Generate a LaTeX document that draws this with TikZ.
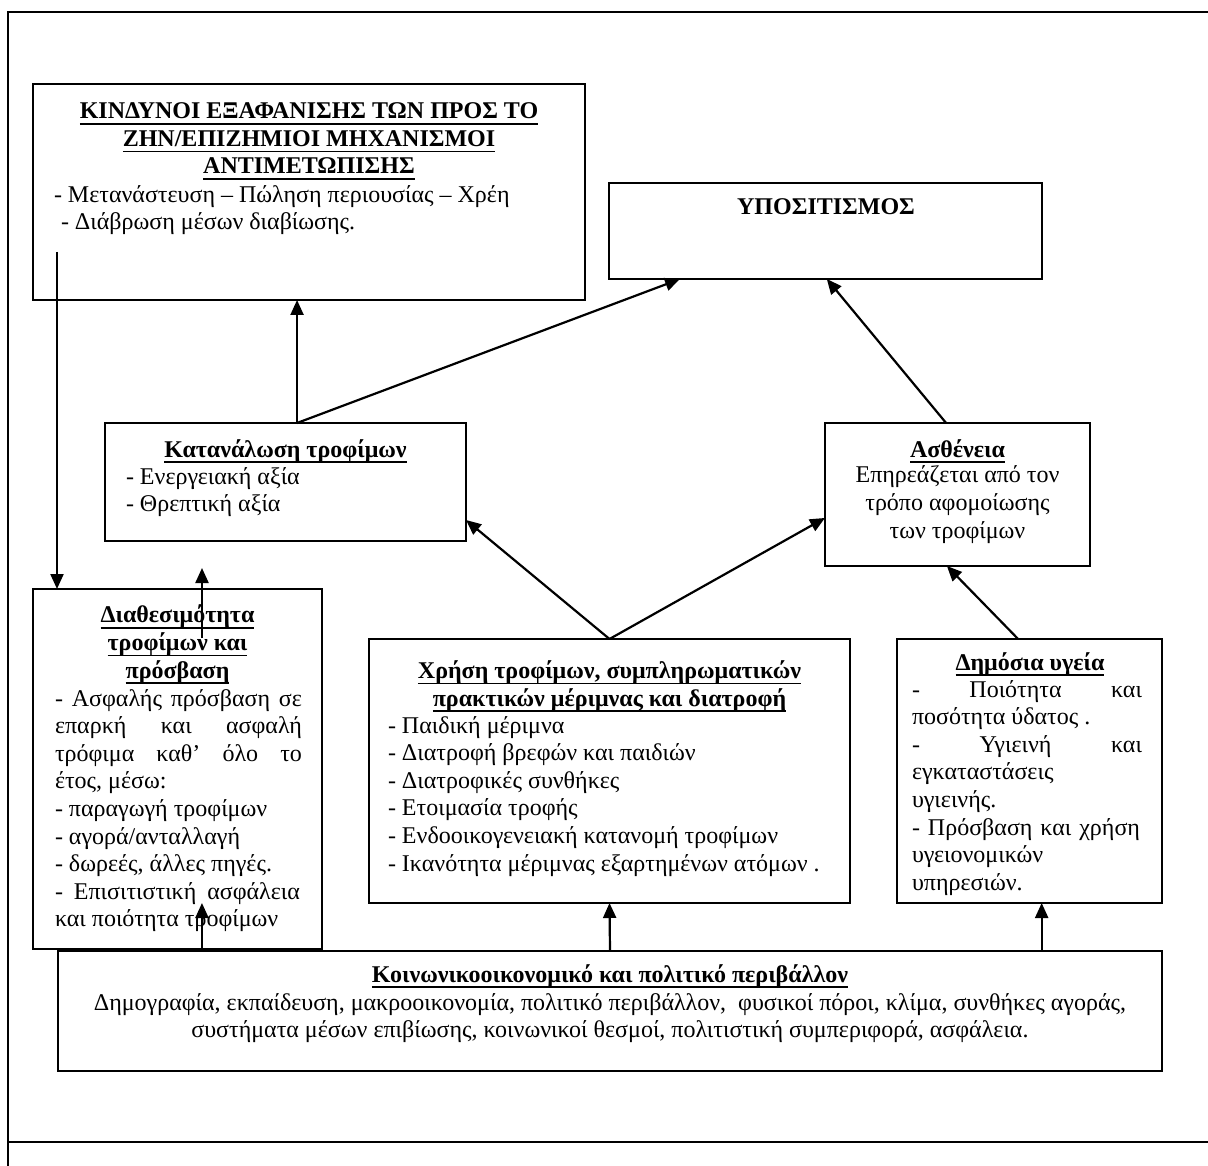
\documentclass[tikz,border=0pt]{standalone}
\usepackage{fontspec}
\setmainfont{Liberation Serif}
\usetikzlibrary{arrows.meta,calc}
\newcommand{\ulx}[1]{\setbox0\hbox{#1}\rlap{\rule[-6pt]{\wd0}{1.8pt}}\box0}
\newcommand{\jline}[2]{\makebox[#1][s]{#2}}
\begin{document}
\begin{tikzpicture}[x=1pt,y=-1pt,
  box/.style={draw, line width=2pt, inner sep=0pt, outer sep=0pt, anchor=north west},
  txt/.style={inner sep=0pt, outer sep=0pt, font=\fontsize{24}{27.6}\selectfont},
  arr/.style={line width=2.2pt, -{Triangle[length=15pt,width=13pt]}},
  frame/.style={line width=2.4pt, line join=miter}]
\useasboundingbox (0,0) rectangle (1208,1166);
\draw[frame] (1208,12) -- (8,12) -- (8,1166);
\draw[frame] (8,1142) -- (1208,1142);

% boxes
\node[box, minimum width=552pt, minimum height=216pt] (A) at (33,84) {};
\node[box, minimum width=433pt, minimum height=96pt] (U) at (609,183) {};
\node[box, minimum width=361pt, minimum height=118pt] (K) at (105,423) {};
\node[box, minimum width=265pt, minimum height=143pt] (S) at (825,423) {};
\node[box, minimum width=289pt, minimum height=360pt] (D) at (33,589) {};
\node[box, minimum width=481pt, minimum height=264pt] (C) at (369,639) {};
\node[box, minimum width=265pt, minimum height=264pt] (P) at (897,639) {};
\node[box, minimum width=1104pt, minimum height=120pt] (E) at (58,951) {};

% texts (multi-line nodes are anchored at the baseline of their last line)
\node[txt, align=center, anchor=base] (At) at (309,174) {\ulx{\bfseries ΚΙΝΔΥΝΟΙ ΕΞΑΦΑΝΙΣΗΣ ΤΩΝ ΠΡΟΣ ΤΟ}\\\ulx{\bfseries ΖΗΝ/ΕΠΙΖΗΜΙΟΙ ΜΗΧΑΝΙΣΜΟΙ}\\\ulx{\bfseries ΑΝΤΙΜΕΤΩΠΙΣΗΣ}};
\node[txt, align=left, anchor=base west] (Ab) at (54,230) {- Μετανάστευση – Πώληση περιουσίας – Χρέη\\\hspace*{7pt}- Διάβρωση μέσων διαβίωσης.};

\node[txt, anchor=base] (Ut) at (826,215) {\bfseries ΥΠΟΣΙΤΙΣΜΟΣ};

\node[txt, anchor=base] (Kt) at (285.5,457) {\ulx{\bfseries Κατανάλωση τροφίμων}};
\node[txt, align=left, anchor=base west] (Kb) at (126,511.6) {- Ενεργειακή αξία\\- Θρεπτική αξία};

\node[txt, anchor=base] (St) at (957.5,457) {\ulx{\bfseries Ασθένεια}};
\node[txt, align=center, anchor=base] (Sb) at (957.5,538) {Επηρεάζεται από τον\\τρόπο αφομοίωσης\\των τροφίμων};

\node[txt, align=center, anchor=base] (Dt) at (177.5,678) {\ulx{\bfseries Διαθεσιμότητα}\\\ulx{\bfseries τροφίμων και}\\\ulx{\bfseries πρόσβαση}};
\node[txt, align=left, anchor=base west] (Db) at (55,926.8) {\jline{247pt}{- Ασφαλής πρόσβαση σε}\\\jline{247pt}{επαρκή και ασφαλή}\\\jline{247pt}{τρόφιμα καθ’ όλο το}\\έτος, μέσω:\\- παραγωγή τροφίμων\\- αγορά/ανταλλαγή\\- δωρεές, άλλες πηγές.\\\jline{245pt}{- Επισιτιστική ασφάλεια}\\και ποιότητα τροφίμων};

\node[txt, align=center, anchor=base] (Ct) at (609.5,706) {\ulx{\bfseries Χρήση τροφίμων, συμπληρωματικών}\\\ulx{\bfseries πρακτικών μέριμνας και διατροφή}};
\node[txt, align=left, anchor=base west] (Cb) at (388,871) {- Παιδική μέριμνα\\- Διατροφή βρεφών και παιδιών\\- Διατροφικές συνθήκες\\- Ετοιμασία τροφής\\- Ενδοοικογενειακή κατανομή τροφίμων\\- Ικανότητα μέριμνας εξαρτημένων ατόμων .};

\node[txt, anchor=base] (Pt) at (1030,670) {\ulx{\bfseries Δημόσια υγεία}};
\begin{scope}
\clip (897,639) rectangle (1162,903);
\node[txt, align=left, anchor=base west] (Pb) at (912,890.2) {\jline{230pt}{- Ποιότητα και}\\ποσότητα ύδατος .\\\jline{230pt}{- Υγιεινή και}\\εγκαταστάσεις\\υγιεινής.\\\jline{228pt}{- Πρόσβαση και χρήση}\\υγειονομικών\\υπηρεσιών.};
\end{scope}

\node[txt, anchor=base] (Et) at (610,982) {\ulx{\bfseries Κοινωνικοοικονομικό και πολιτικό περιβάλλον}};
\node[txt, align=center, anchor=base] (Eb) at (610,1037.6) {Δημογραφία, εκπαίδευση, μακροοικονομία, πολιτικό περιβάλλον,\ \ φυσικοί πόροι, κλίμα, συνθήκες αγοράς,\\συστήματα μέσων επιβίωσης, κοινωνικοί θεσμοί, πολιτιστική συμπεριφορά, ασφάλεια.};

% connector end points
\coordinate (kt) at ($(K.north west)!0.532!(K.north east)$);
\coordinate (ub1) at ($(U.south west)!0.164!(U.south east)$);
\coordinate (ub2) at ($(U.south west)!0.503!(U.south east)$);
\coordinate (st) at ($(S.north west)!0.457!(S.north east)$);
\coordinate (sb) at ($(S.south west)!0.46!(S.south east)$);
\coordinate (sl) at ($(S.north west)!0.664!(S.south west)$);
\coordinate (kr) at ($(K.north east)!0.822!(K.south east)$);
\coordinate (pt) at ($(P.north west)!0.457!(P.north east)$);
\coordinate (a1) at ($(A.south west)+(24,-48)$);
\coordinate (e1) at ($(E.north west)!0.1304!(E.north east)$);
\coordinate (e3) at ($(E.north west)!0.891!(E.north east)$);
\coordinate (d1) at ($(D.north west)+(169,49)$);
\coordinate (k2) at ($(K.south west)+(97,27)$);

% connectors
\draw[arr] (kt) -- (kt |- A.south);
\draw[arr] (kt) -- (ub1);
\draw[arr] (st) -- (ub2);
\draw[arr] (a1) -- (a1 |- D.north);
\draw[arr] (C.north) -- (kr);
\draw[arr] (C.north) -- (sl);
\draw[arr] (pt) -- (sb);
\draw[arr] (e1) -- (e1 |- C.south);
\draw[arr] (d1) -- (k2);
\draw[arr] (E.north) -- (C.south);
\draw[arr] (e3) -- (e3 |- P.south);
\end{tikzpicture}
\end{document}
